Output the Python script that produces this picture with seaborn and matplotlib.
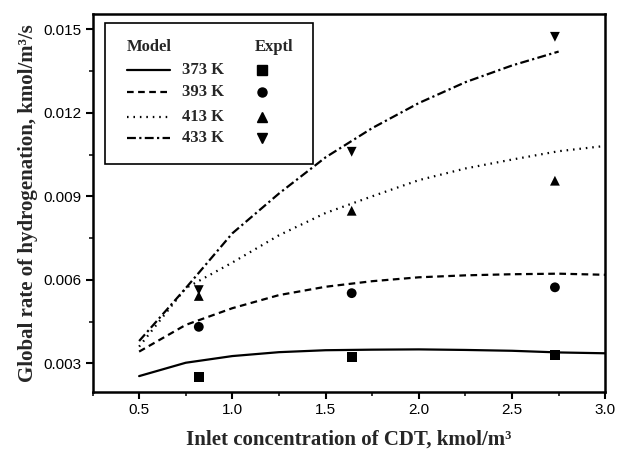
import matplotlib
matplotlib.use("Agg")
import matplotlib.pyplot as plt
import numpy as np
import pandas as pd
import seaborn as sns
from matplotlib.patches import Rectangle
from matplotlib.lines import Line2D
from matplotlib.ticker import MultipleLocator, FormatStrFormatter

# ---- data -------------------------------------------------------------
temperatures = ["373 K", "393 K", "413 K", "433 K"]

model_conc = [0.5, 0.75, 1.0, 1.25, 1.5, 1.75, 2.0, 2.25, 2.5, 2.75, 3.0]
model_373 = [0.00254, 0.00302, 0.00326, 0.00340, 0.00347, 0.00349, 0.00350,
             0.00348, 0.00345, 0.00339, 0.00336]
model_393 = [0.00342, 0.00438, 0.00498, 0.00545, 0.00575, 0.00595, 0.00609,
             0.00616, 0.00620, 0.00622, 0.00618]
model_413 = [0.00360, 0.00570, 0.00662, 0.00760, 0.00840, 0.00900, 0.00958,
             0.01000, 0.01032, 0.01062, 0.01081]
model_433 = [0.00380, 0.00570, 0.00767, 0.00910, 0.01040, 0.01145, 0.01235,
             0.01310, 0.01370, 0.01420]

exptl_conc = [0.82, 1.64, 2.73]
exptl_373 = [0.00252, 0.00322, 0.00330]
exptl_393 = [0.00431, 0.00552, 0.00573]
exptl_413 = [0.00542, 0.00848, 0.00956]
exptl_433 = [0.00563, 0.01060, 0.01473]

# ---- long tables for seaborn -------------------------------------------
model_series = [model_373, model_393, model_413, model_433]
exptl_series = [exptl_373, exptl_393, exptl_413, exptl_433]

model_df = pd.concat(
    [pd.DataFrame({"conc": model_conc[:len(v)], "rate": v, "temp": t})
     for t, v in zip(temperatures, model_series)],
    ignore_index=True)
exptl_df = pd.concat(
    [pd.DataFrame({"conc": exptl_conc, "rate": v, "temp": t})
     for t, v in zip(temperatures, exptl_series)],
    ignore_index=True)

# ---- styling ----------------------------------------------------------
sns.set_style("ticks")
plt.rcParams["font.family"] = ["Liberation Sans", "DejaVu Sans"]

dash_map = {"373 K": "", "393 K": (3, 2), "413 K": (0.7, 2.2),
            "433 K": (4, 1.5, 1, 1.5)}
marker_map = {"373 K": "s", "393 K": "o", "413 K": "^", "433 K": "v"}
serif_bold = dict(family=["Liberation Serif", "DejaVu Serif"], weight="bold")

fig = plt.figure(figsize=(6.18, 4.57), dpi=100)
ax = fig.add_axes([0.1497, 0.1429, 0.8297, 0.8265])

sns.lineplot(data=model_df, x="conc", y="rate", style="temp",
             style_order=temperatures, dashes=dash_map, color="black",
             linewidth=1.6, estimator=None, sort=False, legend=False, ax=ax)
sns.scatterplot(data=exptl_df, x="conc", y="rate", style="temp",
                style_order=temperatures, markers=marker_map, color="black",
                s=50, linewidth=0, legend=False, ax=ax, zorder=3)

ax.set_xlim(0.25, 3.0)
ax.set_ylim(0.00198, 0.01555)
ax.xaxis.set_major_locator(MultipleLocator(0.5))
ax.xaxis.set_minor_locator(MultipleLocator(0.25))
ax.yaxis.set_major_locator(MultipleLocator(0.003))
ax.yaxis.set_minor_locator(MultipleLocator(0.0015))
ax.xaxis.set_major_formatter(FormatStrFormatter("%.1f"))
ax.yaxis.set_major_formatter(FormatStrFormatter("%.3f"))
ax.tick_params(which="major", direction="out", length=5, width=1.5,
               labelsize=11, colors="black", pad=3)
ax.tick_params(which="minor", direction="out", length=3, width=1.3)
for s in ax.spines.values():
    s.set_linewidth(1.8)
    s.set_color("black")

ax.set_xlabel("Inlet concentration of CDT, kmol/m³", fontsize=15,
              labelpad=9, **serif_bold)
ax.set_ylabel("Global rate of hydrogenation, kmol/m³/s", fontsize=15,
              labelpad=4, **serif_bold)

# ---- two-column key: model curves and experimental symbols -----------
tr = ax.transAxes
ax.add_patch(Rectangle((0.0244, 0.603), 0.4058, 0.374, transform=tr,
                       fill=False, edgecolor="black", linewidth=1.2,
                       zorder=4))
ax.text(0.0667, 0.9134, "Model", transform=tr, fontsize=12,
        va="center", ha="left", **serif_bold)
ax.text(0.317, 0.9134, "Exptl", transform=tr, fontsize=12,
        va="center", ha="left", **serif_bold)
row_y = [0.8517, 0.7943, 0.7281, 0.6709]
for t, y in zip(temperatures, row_y):
    ln = Line2D([0.0667, 0.1512], [y, y], transform=tr, color="black",
                linewidth=1.6)
    if dash_map[t]:
        ln.set_dashes(dash_map[t])
    ax.add_line(ln)
    ax.text(0.174, y, t, transform=tr, fontsize=12, va="center",
            ha="left", **serif_bold)
    ax.add_line(Line2D([0.3313], [y], transform=tr, marker=marker_map[t],
                       markersize=6.5, color="black", linestyle="none"))

fig.savefig("out.png", dpi=100)
